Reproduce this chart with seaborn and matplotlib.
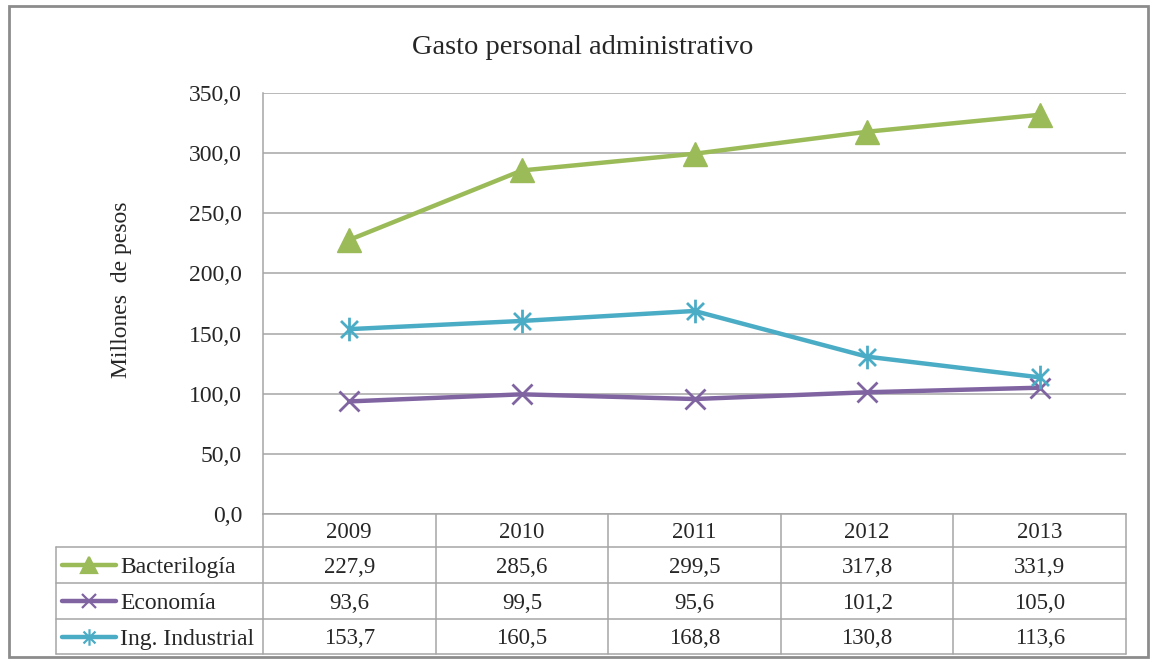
import matplotlib
matplotlib.use("Agg")
import matplotlib.pyplot as plt
import matplotlib.transforms as mtransforms
from matplotlib.lines import Line2D
from matplotlib.path import Path
from matplotlib.patches import Rectangle
import seaborn as sns
import pandas as pd

years = [2009, 2010, 2011, 2012, 2013]
bacteriologia = [227.9, 285.6, 299.5, 317.8, 331.9]
economia = [93.6, 99.5, 95.6, 101.2, 105.0]
ing_industrial = [153.7, 160.5, 168.8, 130.8, 113.6]
series_names = ["Bacterilogía", "Economía", "Ing. Industrial"]
y_ticks = [0, 50, 100, 150, 200, 250, 300, 350]

W, H = 1152, 662
GRID = "#A6A6A6"
colors = {"Bacterilogía": "#9BBB59", "Economía": "#8064A2", "Ing. Industrial": "#4BACC6"}

# asterisk: vertical bar plus an x
star = Path(
    [(0, -1), (0, 1), (-0.72, -0.72), (0.72, 0.72), (-0.72, 0.72), (0.72, -0.72)],
    [Path.MOVETO, Path.LINETO, Path.MOVETO, Path.LINETO, Path.MOVETO, Path.LINETO],
)
markers = {"Bacterilogía": "^", "Economía": "x", "Ing. Industrial": star}
msizes = {"Bacterilogía": 17, "Economía": 15, "Ing. Industrial": 17}

df = pd.DataFrame({
    "Año": years * 3,
    "Valor": bacteriologia + economia + ing_industrial,
    "Serie": [s for s in series_names for _ in years],
})

sns.set_style("white")
plt.rcParams["font.family"] = ["Liberation Serif", "DejaVu Serif"]

fig = plt.figure(figsize=(W / 100, H / 100), dpi=100)
ax = fig.add_axes([263 / W, 1 - 514 / H, (1126 - 263) / W, (514 - 93) / H])


def fpos(x, y):
    return x / W, 1 - y / H


sns.lineplot(
    data=df, x="Año", y="Valor", hue="Serie", hue_order=series_names,
    palette=colors, linewidth=3.2, legend=False, ax=ax, zorder=3,
)
for line, name in zip(ax.lines, series_names):
    line.set_marker(markers[name])
    line.set_markeredgecolor(colors[name])
    line.set_markerfacecolor(colors[name])
    line.set_markersize(msizes[name])
    line.set_markeredgewidth(2.0 if name != "Bacterilogía" else 1)

ax.set_xlim(years[0] - 0.5, years[-1] + 0.5)
ax.set_ylim(0, 350)
ax.set_yticks(y_ticks)
ax.set_yticklabels([f"{v:.1f}".replace(".", ",") for v in y_ticks], fontsize=17)
ax.set_xticks([])
ax.tick_params(axis="y", length=0, pad=15)
ax.yaxis.grid(True, color=GRID, linewidth=1.1)
ax.set_axisbelow(True)
for side in ["top", "right"]:
    ax.spines[side].set_visible(False)
for side in ["left", "bottom"]:
    ax.spines[side].set_color(GRID)
    ax.spines[side].set_linewidth(1.1)
ax.set_xlabel("")
ax.set_ylabel("")

fig.text(*fpos(583, 45), "Gasto personal administrativo", fontsize=20.5,
         ha="center", va="center_baseline")
fig.text(*fpos(121, 290), "Millones  de pesos", fontsize=17, rotation=90,
         ha="center", va="center")

# data table under the axis
blend = mtransforms.blended_transform_factory(ax.transData, fig.transFigure)
row_edges = [514, 547, 583, 619, 654]
row_centers = [(row_edges[i] + row_edges[i + 1]) / 2 for i in range(4)]


def hline(x0, x1, y):
    fig.add_artist(Line2D([x0 / W, x1 / W], [1 - y / H, 1 - y / H],
                          transform=fig.transFigure, color=GRID, lw=1.1))


def vline(x, y0, y1, trans=fig.transFigure):
    fig.add_artist(Line2D([x, x], [1 - y0 / H, 1 - y1 / H],
                          transform=trans, color=GRID, lw=1.1))


for y in row_edges[1:]:
    hline(56, 1126, y)
vline(56 / W, row_edges[1], row_edges[-1])
vline(263 / W, row_edges[0], row_edges[-1])
for yr in years:
    vline(yr + 0.5, row_edges[0], row_edges[-1], trans=blend)

for yr in years:
    fig.text(yr, 1 - row_centers[0] / H, str(yr), transform=blend,
             fontsize=16.5, ha="center", va="center_baseline")

values = [bacteriologia, economia, ing_industrial]
for i, (name, vals) in enumerate(zip(series_names, values)):
    yc = row_centers[i + 1]
    for yr, v in zip(years, vals):
        fig.text(yr, 1 - yc / H, f"{v:.1f}".replace(".", ","), transform=blend,
                 fontsize=16.5, ha="center", va="center_baseline")
    fig.add_artist(Line2D([62 / W, 116 / W], [1 - yc / H] * 2,
                          transform=fig.transFigure, color=colors[name], lw=3.2))
    fig.add_artist(Line2D([89 / W], [1 - yc / H], transform=fig.transFigure,
                          color=colors[name], marker=markers[name],
                          markersize=msizes[name] * 0.7, mew=1.6, lw=0))
    fig.text(120 / W, 1 - yc / H, name, fontsize=17, ha="left",
             va="center_baseline")

# outer chart frame
fig.add_artist(Rectangle((9 / W, 1 - 657 / H), (1148 - 9) / W, (657 - 6) / H,
                         transform=fig.transFigure, fill=False,
                         edgecolor="#8C8C8C", lw=2))

fig.savefig("out.png", dpi=100)
